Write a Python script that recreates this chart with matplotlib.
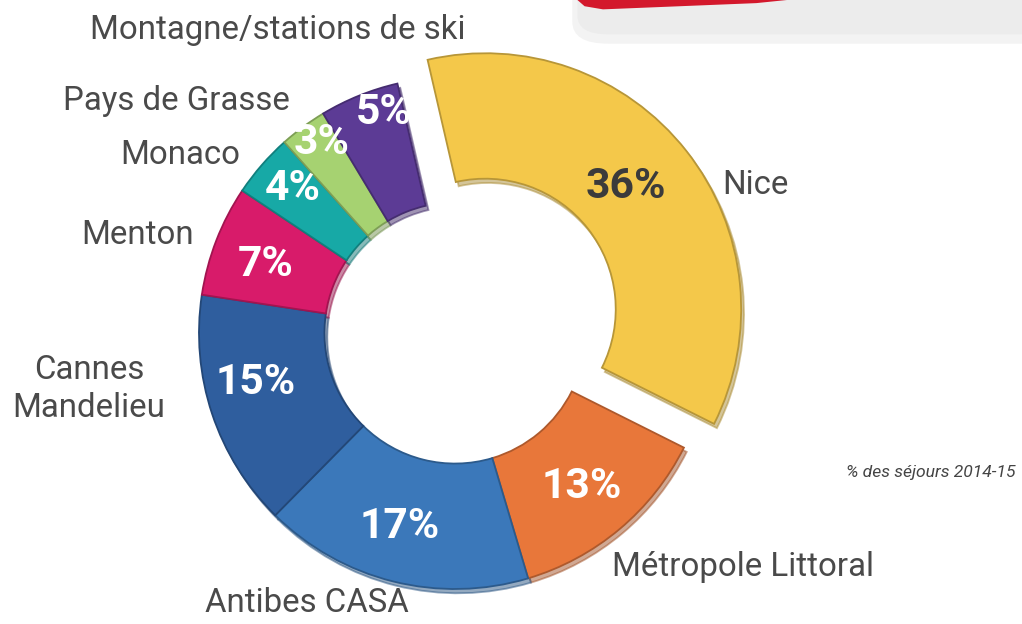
import matplotlib
matplotlib.use('Agg')
import matplotlib.pyplot as plt
import matplotlib.patches as patches
from matplotlib import font_manager as fm
from matplotlib.colors import to_rgb

# Data
regions = ['Nice', 'Métropole Littoral', 'Antibes CASA', 'Cannes\nMandelieu',
           'Menton', 'Monaco', 'Pays de Grasse', 'Montagne/stations de ski']
shares = [36, 13, 17, 15, 7, 4, 3, 5]
colors = ['#F4C84A', '#E8773A', '#3B78BA', '#2F5E9E',
          '#D81B6A', '#17A9A6', '#A6D271', '#5C3B95']
pct_colors = ['#3b3b3b', 'white', 'white', 'white', 'white', 'white', 'white', 'white']
explode = [0.15, 0, 0, 0, 0, 0, 0, 0]
note = '% des séjours 2014-15'

# pixel layout -> data units (centre of ring at 455,333, radius 256 px)
CX, CY, SCALE = 455, 333, 256.0
W, H = 1022, 624


def px(x, y):
    return (x - CX) / SCALE, (CY - y) / SCALE


pct_pos = [(626, 186), (582, 487), (400, 527), (256, 383),
           (266, 265), (293, 188), (322, 142), (384, 113)]
label_pos = [(722, 185, 'left'), (612, 567, 'left'), (205, 603, 'left'),
             (89, 389, 'center'), (194, 235, 'right'), (240, 155, 'right'),
             (290, 101, 'right'), (465, 30, 'right')]

# pick the narrowest installed sans
installed = {f.name for f in fm.fontManager.ttflist}
FONT = [f for f in ['Liberation Sans Narrow', 'Roboto', 'DejaVu Sans'] if f in installed] + ['DejaVu Sans']

fig = plt.figure(figsize=(10.22, 6.24), dpi=100, facecolor='white')
ax = fig.add_axes([0, 0, 1, 1])

# red banner corner at top right (with its soft grey shadow)
fig.patches.append(patches.FancyBboxPatch((0.56, 0.93), 0.5, 0.12, boxstyle='round,pad=0,rounding_size=0.035',
                                          transform=fig.transFigure, facecolor='#f3f3f3',
                                          edgecolor='none', zorder=0))
fig.patches.append(patches.FancyBboxPatch((0.565, 0.945), 0.5, 0.12, boxstyle='round,pad=0,rounding_size=0.03',
                                          transform=fig.transFigure, facecolor='#ececec',
                                          edgecolor='none', zorder=0))
fig.patches.append(patches.Polygon([(0.565, 1.0), (0.572, 0.99), (0.59, 0.985), (0.74, 0.995), (0.77, 1.0)],
                                   closed=True, transform=fig.transFigure, facecolor='#D3182C',
                                   edgecolor='none', zorder=1))

wedges, _ = ax.pie(shares, radius=1, startangle=103, counterclock=False,
                   explode=explode, colors=colors,
                   wedgeprops=dict(width=0.49, linewidth=1.3),
                   shadow={'ox': 0.008, 'oy': -0.012, 'shade': 0.3})

for w, c in zip(wedges, colors):
    r, g, b = to_rgb(c)
    w.set_edgecolor((r * 0.75, g * 0.75, b * 0.75))

pct_texts = []
for i, (x, y) in enumerate(pct_pos):
    xd, yd = px(x, y)
    pct_texts.append(ax.text(xd, yd, f'{shares[i]}%', color=pct_colors[i], fontsize=30,
                             fontweight='bold', ha='center', va='center', family=FONT))

name_texts = []
for name, (x, y, ha) in zip(regions, label_pos):
    xd, yd = px(x, y)
    name_texts.append(ax.text(xd, yd, name, color='#4a4a4a', fontsize=28, ha=ha, va='center',
                              family=FONT, linespacing=1.25))

xd, yd = px(1015, 473)
note_text = ax.text(xd, yd, note, color='#444444', fontsize=14, style='italic',
                    ha='right', va='center', family=FONT)

x0, y0 = px(0, H)
x1, y1 = px(W, 0)
ax.set_xlim(x0, x1)
ax.set_ylim(y0, y1)
ax.set_aspect('equal')
ax.axis('off')

# scale font sizes so the widths match the reference
renderer = fig.canvas.get_renderer()


def fit(texts, ref, target):
    w = ref.get_window_extent(renderer).width
    k = target / w
    for t in texts:
        t.set_fontsize(t.get_fontsize() * k)


fit(name_texts, name_texts[-1], 375)
fit(pct_texts, pct_texts[0], 80)
fit([note_text], note_text, 170)

fig.savefig('out.png', dpi=100, facecolor='white')
